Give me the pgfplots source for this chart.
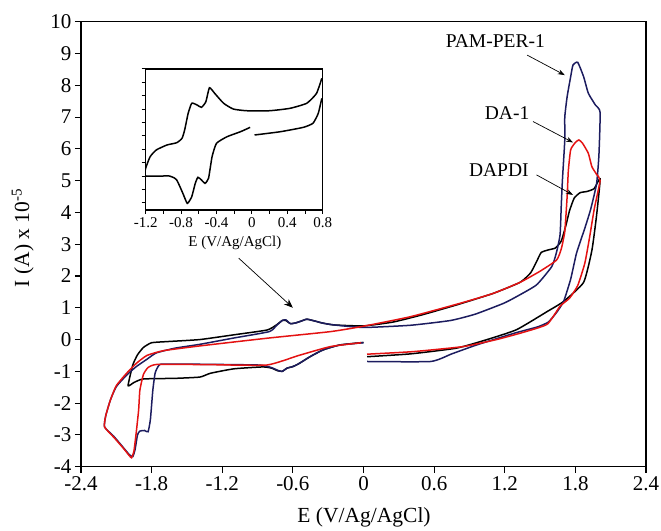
\documentclass[border=0pt]{standalone}
\usepackage{pgfplots}
\pgfplotsset{compat=1.18}
\usepackage{fontspec}
\setmainfont{Liberation Serif}
\usetikzlibrary{arrows.meta}
\definecolor{navy}{RGB}{28,28,95}
\definecolor{cvred}{RGB}{228,18,18}
\begin{document}
\begin{tikzpicture}
\path[use as bounding box] (-81pt,-63.3pt) rectangle (580pt,466.7pt);
\begin{axis}[
  at={(0,0)}, anchor=south west,
  scale only axis, width=565pt, height=445pt,
  xmin=-2.4, xmax=2.4, ymin=-4, ymax=10,
  xtick={-2.4,-1.8,-1.2,-0.6,0,0.6,1.2,1.8,2.4},
  ytick={-4,-3,-2,-1,0,1,2,3,4,5,6,7,8,9,10},
  tick align=outside, xtick pos=lower, ytick pos=left,
  major tick length=6pt,
  axis line style={line width=1.5pt},
  tick style={line width=1.1pt, black},
  tick label style={font=\fontsize{21}{23}\selectfont},
  /pgf/number format/assume math mode=true,
  xlabel={E (V/Ag/AgCl)},
  ylabel={I (A) x 10\textsuperscript{-5}},
  label style={font=\fontsize{21.5}{24}\selectfont},
  xlabel style={at={(axis description cs:0.501,-0.113)}, anchor=center},
  ylabel style={at={(axis description cs:-0.103,0.514)}, anchor=center},
  clip=false,
  every axis plot/.append style={line width=1.5pt, smooth, tension=0.3},
]
% DAPDI
\addplot[black] coordinates {
(0.03,-0.54) (0.4,-0.45) (0.79,-0.27) (1.05,0.0) (1.3,0.31) (1.56,0.88) (1.7,1.2) (1.87,1.8) (1.94,2.8) (1.98,3.9) (2.01,5.05)
(1.96,4.75) (1.9,4.66) (1.84,4.62) (1.79,4.45) (1.75,4.05) (1.72,3.6) (1.68,3.1) (1.63,2.88) (1.57,2.82) (1.51,2.74) (1.47,2.45)
(1.42,2.1) (1.33,1.8) (1.1,1.45) (0.8,1.1) (0.5,0.78) (0.25,0.55) (0,0.43) (-0.25,0.46) (-0.35,0.52) (-0.4,0.57) (-0.48,0.64)
(-0.53,0.58) (-0.57,0.53) (-0.62,0.5) (-0.66,0.6) (-0.69,0.6) (-0.74,0.46) (-0.82,0.3) (-1.1,0.15) (-1.39,0.0) (-1.65,-0.06)
(-1.8,-0.1) (-1.87,-0.25) (-1.92,-0.48) (-1.96,-0.8) (-2.0,-1.45) (-1.95,-1.35) (-1.87,-1.24) (-1.6,-1.22) (-1.39,-1.18)
(-1.3,-1.06) (-1.1,-0.92) (-0.85,-0.86) (-0.78,-0.9) (-0.73,-0.98) (-0.69,-1.0) (-0.65,-0.9) (-0.6,-0.85) (-0.55,-0.76)
(-0.45,-0.53) (-0.34,-0.32) (-0.2,-0.17) (0,-0.09)
};
% PAM-PER-1
\addplot[navy] coordinates {
(0.03,-0.69) (0.57,-0.69) (0.75,-0.45) (0.96,-0.17) (1.15,0.05) (1.3,0.22) (1.48,0.4) (1.57,0.55) (1.64,0.85) (1.7,1.2)
(1.76,1.9) (1.81,2.72) (1.88,3.5) (1.93,4.1) (1.98,4.9) (2.0,5.8) (2.01,7.15) (1.97,7.38) (1.91,7.75) (1.87,8.27) (1.82,8.72)
(1.78,8.64) (1.76,8.27) (1.73,7.64) (1.71,7.0) (1.71,6.28) (1.69,5.02) (1.68,4.2) (1.67,3.3) (1.64,2.75) (1.6,2.3) (1.47,1.72)
(1.3,1.35) (1.19,1.14) (0.95,0.8) (0.74,0.6) (0.4,0.45) (0,0.38) (-0.25,0.46) (-0.35,0.52) (-0.4,0.57) (-0.48,0.64)
(-0.53,0.58) (-0.57,0.53) (-0.62,0.5) (-0.66,0.62) (-0.69,0.6) (-0.74,0.44) (-0.8,0.25) (-1.1,0.05) (-1.39,-0.15)
(-1.6,-0.27) (-1.76,-0.42) (-1.84,-0.62) (-1.93,-0.85) (-2.01,-1.11) (-2.1,-1.48) (-2.15,-1.9) (-2.19,-2.4) (-2.2,-2.75)
(-2.12,-3.05) (-2.04,-3.4) (-1.99,-3.62) (-1.96,-3.68) (-1.94,-3.45) (-1.92,-3.0) (-1.9,-2.88) (-1.86,-2.86) (-1.83,-2.9)
(-1.81,-2.5) (-1.79,-1.6) (-1.77,-1.05) (-1.74,-0.82) (-1.7,-0.77) (-1.3,-0.78) (-0.9,-0.8) (-0.82,-0.84) (-0.77,-0.9)
(-0.72,-0.98) (-0.69,-1.0) (-0.65,-0.9) (-0.6,-0.85) (-0.55,-0.76) (-0.45,-0.53) (-0.34,-0.32) (-0.2,-0.17) (0,-0.1)
};
% DA-1
\addplot[cvred] coordinates {
(0.03,-0.46) (0.42,-0.38) (0.85,-0.22) (1.13,0.0) (1.35,0.22) (1.56,0.48) (1.67,1.05) (1.75,1.3) (1.82,1.7) (1.88,2.4)
(1.92,3.2) (1.96,4.1) (2.01,5.0) (1.98,5.2) (1.94,5.44) (1.91,5.86) (1.86,6.18) (1.83,6.28) (1.8,6.2) (1.76,5.97) (1.74,5.3)
(1.73,4.5) (1.71,3.4) (1.68,2.85) (1.64,2.5) (1.5,2.15) (1.33,1.8) (1.1,1.45) (0.82,1.14) (0.4,0.72) (0,0.42) (-0.28,0.25)
(-0.8,0.05) (-1.39,-0.2) (-1.7,-0.35) (-1.84,-0.5) (-1.93,-0.75) (-2.01,-1.05) (-2.1,-1.45) (-2.15,-1.9) (-2.19,-2.4)
(-2.2,-2.75) (-2.12,-3.08) (-2.04,-3.42) (-1.99,-3.65) (-1.97,-3.72) (-1.95,-3.5) (-1.93,-2.9) (-1.91,-2.2) (-1.9,-1.6)
(-1.87,-1.1) (-1.83,-0.88) (-1.75,-0.78) (-1.3,-0.79) (-0.82,-0.8) (-0.55,-0.5) (-0.28,-0.22) (-0.02,-0.1)
};
\node[font=\fontsize{19.5}{22}\selectfont] at (axis cs:1.12,9.39) {PAM-PER-1};
\node[font=\fontsize{19.5}{22}\selectfont] at (axis cs:1.22,7.13) {DA-1};
\node[font=\fontsize{19.5}{22}\selectfont] at (axis cs:1.15,5.34) {DAPDI};
\draw[-{Stealth[length=7pt,width=5pt]}, line width=0.7pt] (axis cs:1.39,8.95) -- (axis cs:1.71,8.32);
\draw[-{Stealth[length=7pt,width=5pt]}, line width=0.7pt] (axis cs:1.44,6.86) -- (axis cs:1.78,6.2);
\draw[-{Stealth[length=7pt,width=5pt]}, line width=0.7pt] (axis cs:1.47,5.18) -- (axis cs:1.78,4.55);
\draw[-{Stealth[length=9pt,width=7pt]}, line width=0.7pt] (axis cs:-1.06,2.56) -- (axis cs:-0.6,1.0);
\end{axis}
\begin{axis}[
  at={(64.7pt,256.7pt)}, anchor=south west,
  scale only axis, width=177pt, height=141pt,
  xmin=-1.2, xmax=0.8, ymin=0, ymax=10,
  xtick={-1.2,-0.8,-0.4,0,0.4,0.8},
  minor xtick={-1.0,-0.6,-0.2,0.2,0.6},
  ytick={0.5,1.45,...,9.6}, yticklabels={},
  tick align=outside, xtick pos=lower, ytick pos=left,
  major tick length=4pt, minor tick length=4pt,
  axis line style={line width=1.4pt},
  tick style={line width=1pt, black},
  tick label style={font=\fontsize{15}{17}\selectfont},
  /pgf/number format/assume math mode=true,
  xlabel={E (V/Ag/AgCl)},
  xlabel style={font=\fontsize{15}{17}\selectfont, at={(axis description cs:0.504,-0.234)}, anchor=center},
  every axis plot/.append style={line width=1.5pt, smooth, tension=0.3},
]
\addplot[black] coordinates {
(-0.02,5.86) (-0.13,5.55) (-0.28,5.2) (-0.4,4.73) (-0.45,3.78) (-0.49,2.25) (-0.53,1.89) (-0.57,2.13) (-0.61,2.32) (-0.64,1.89)
(-0.68,0.94) (-0.73,0.47) (-0.78,1.18) (-0.85,2.13) (-0.93,2.41) (-1.2,2.41) (-1.2,2.96) (-1.15,3.78) (-1.08,4.26) (-0.96,4.61)
(-0.85,4.77) (-0.79,5.08) (-0.76,5.67) (-0.72,6.86) (-0.68,7.57) (-0.62,7.45) (-0.57,7.28) (-0.52,7.68) (-0.48,8.67) (-0.42,8.27)
(-0.32,7.57) (-0.21,7.16) (-0.06,7.04) (0.2,7.04) (0.43,7.21) (0.62,7.57) (0.73,8.27) (0.79,9.34)
};
\addplot[black] coordinates {
(0.03,5.32) (0.32,5.55) (0.58,5.86) (0.69,6.15) (0.75,6.86) (0.79,7.92)
};
\end{axis}
\end{tikzpicture}
\end{document}
